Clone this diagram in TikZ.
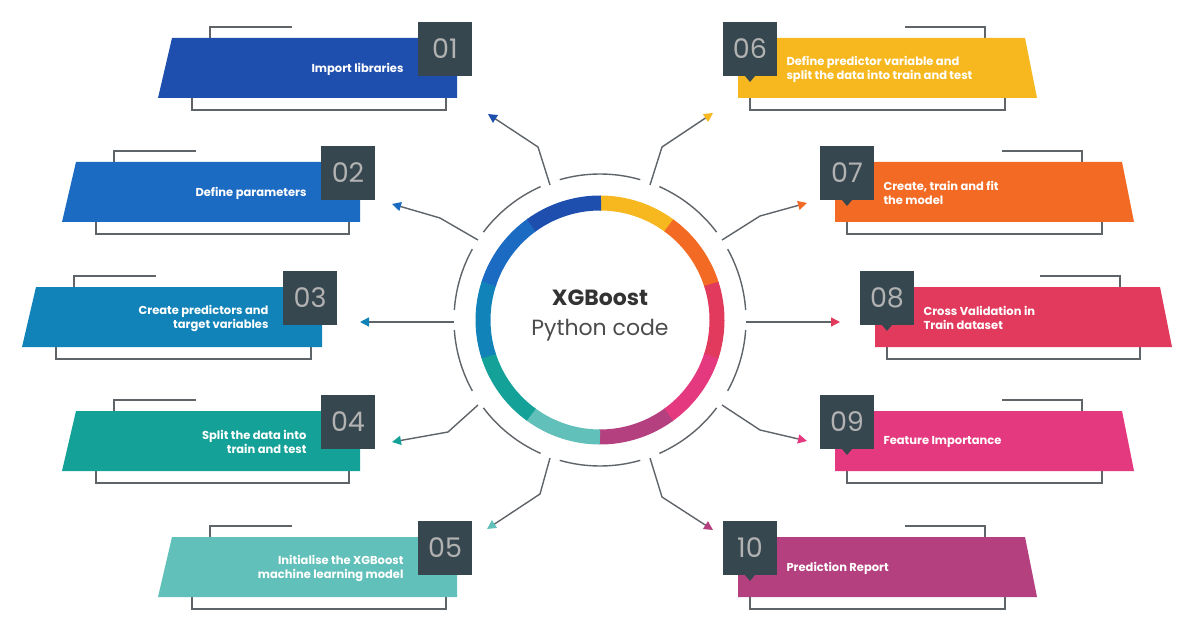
\documentclass[tikz,border=0pt]{standalone}
\usepackage{fontspec}
\setmainfont{Poppins}
\usetikzlibrary{arrows.meta}
\definecolor{c1}{HTML}{1F4FAE}
\definecolor{c2}{HTML}{1C6BC2}
\definecolor{c3}{HTML}{1283B9}
\definecolor{c4}{HTML}{14A198}
\definecolor{c5}{HTML}{62C0BA}
\definecolor{c6}{HTML}{F6B81E}
\definecolor{c7}{HTML}{F26A24}
\definecolor{c8}{HTML}{E23A5C}
\definecolor{c9}{HTML}{E5397F}
\definecolor{c10}{HTML}{B5407F}
\definecolor{boxc}{HTML}{37474F}
\definecolor{linec}{HTML}{5F6468}
\tikzset{
  frame/.style={draw=linec,line width=1.6pt},
  numbox/.style={fill=boxc,draw=none},
  num/.style={text=gray!60,font=\fontsize{27}{27}\selectfont},
  ltxt/.style={text=white,font=\bfseries\fontsize{11.5}{14}\selectfont,align=right,anchor=east},
  rtxt/.style={text=white,font=\bfseries\fontsize{11.5}{14}\selectfont,align=left,anchor=west},
  conn/.style={draw=linec,line width=1.4pt},
}
% left banner: name, color, xl(bottom-left), yt, xr, number, text
\newcommand{\LBan}[7]{
  \draw[frame] (#3+52,#4) -- (#3+52,#4-11) -- (#3+134,#4-11);
  \draw[frame] (#3+34,#4+60) -- (#3+34,#4+72) -- (#5-11,#4+72) -- (#5-11,#4+60);
  \fill[#2] (#3,#4+60) -- (#3+14,#4) -- (#5,#4) -- (#5,#4+60) -- cycle;
  \fill[numbox] (#5-39,#4-16) rectangle (#5+15,#4+38);
  \node[num] (#1n) at (#5-12,#4+11) {#6};
  \node[ltxt] (#1t) at (#5-50,#4+31) {#7};
}
% right banner: name, color, xl, yt, xr(top-right), number, text
\newcommand{\RBan}[7]{
  \draw[frame] (#5-120,#4-11) -- (#5-40,#4-11) -- (#5-40,#4);
  \draw[frame] (#3+12,#4+60) -- (#3+12,#4+72) -- (#5-20,#4+72) -- (#5-20,#4+60);
  \fill[#2] (#3,#4) -- (#5,#4) -- (#5+12,#4+60) -- (#3,#4+60) -- cycle;
  \fill[numbox] (#3-15,#4-16) rectangle (#3+39,#4+38);
  \fill[numbox] (#3+7,#4+38) -- (#3+17,#4+38) -- (#3+12,#4+44) -- cycle;
  \node[num] (#1n) at (#3+12,#4+11) {#6};
  \node[rtxt] (#1t) at (#3+45,#4+31) {#7};
}
\begin{document}
\begin{tikzpicture}[x=1pt,y=-1pt]
\useasboundingbox[fill=white] (0,0) rectangle (1196,628);
\LBan{b1}{c1}{158}{38}{457}{01}{Import libraries}
\LBan{b2}{c2}{62}{162}{360}{02}{Define parameters}
\LBan{b3}{c3}{22}{287}{322}{03}{Create predictors and\\target variables}
\LBan{b4}{c4}{62}{411}{360}{04}{Split the data into\\train and test}
\LBan{b5}{c5}{158}{537}{457}{05}{Initialise the XGBoost\\machine learning model}
\RBan{b6}{c6}{738}{38}{1025}{06}{Define predictor variable and\\split the data into train and test}
\RBan{b7}{c7}{835}{162}{1122}{07}{Create, train and fit\\the model}
\RBan{b8}{c8}{875}{287}{1160}{08}{Cross Validation in\\Train dataset}
\RBan{b9}{c9}{835}{411}{1122}{09}{Feature Importance}
\RBan{b10}{c10}{738}{537}{1025}{10}{Prediction Report}
% ring
\coordinate (ctr) at (600,320);
\foreach \c [count=\i from 0] in {c6,c7,c8,c9,c10,c5,c4,c3,c2,c1}{
  \draw[\c,line width=15pt] ([shift={(-90+\i*36:117)}]ctr) arc[start angle=-90+\i*36, end angle=-53.5+\i*36, radius=117];
}
% outer arcs
\foreach \a/\b in {-66/-37,-29/-4,4/29,37/66,74/106,114/143,151/176,184/209,217/246,254/286}{
  \draw[frame,line width=1.4pt] ([shift={(-\a:146)}]ctr) arc[start angle=-\a, end angle=-\b, radius=146];
}
\node[text=black!80,font=\bfseries\fontsize{22}{24}\selectfont] (t1) at (600,298) {XGBoost};
\node[text=black!70,font=\fontsize{22}{24}\selectfont] (t2) at (600,330) {Python code};
% connectors
\coordinate (s1) at (550,185); \coordinate (m1) at (538,147); \coordinate (e1) at (488,114);
\coordinate (s2) at (478,240); \coordinate (m2) at (440,218); \coordinate (e2) at (392,204);
\coordinate (s3) at (454,322); \coordinate (e3) at (360,322);
\coordinate (s4) at (478,405); \coordinate (m4) at (448,432); \coordinate (e4) at (392,442);
\coordinate (s5) at (550,458); \coordinate (m5) at (540,494); \coordinate (e5) at (487,529);
\coordinate (s6) at (650,185); \coordinate (m6) at (662,147); \coordinate (e6) at (713,113);
\coordinate (s7) at (722,240); \coordinate (m7) at (760,216); \coordinate (e7) at (807,203);
\coordinate (s8) at (746,322); \coordinate (e8) at (840,322);
\coordinate (s9) at (722,405); \coordinate (m9) at (760,430); \coordinate (e9) at (807,441);
\coordinate (s10) at (650,458); \coordinate (m10) at (662,497); \coordinate (e10) at (713,530);
\foreach \i in {1,2,4,5,6,7,9,10}{
  \draw[conn,-{Triangle[length=9pt,width=9pt,color=c\i]}] (s\i) -- (m\i) -- (e\i);
}
\foreach \i in {3,8}{
  \draw[conn,-{Triangle[length=9pt,width=9pt,color=c\i]}] (s\i) -- (e\i);
}
\end{tikzpicture}
\end{document}
